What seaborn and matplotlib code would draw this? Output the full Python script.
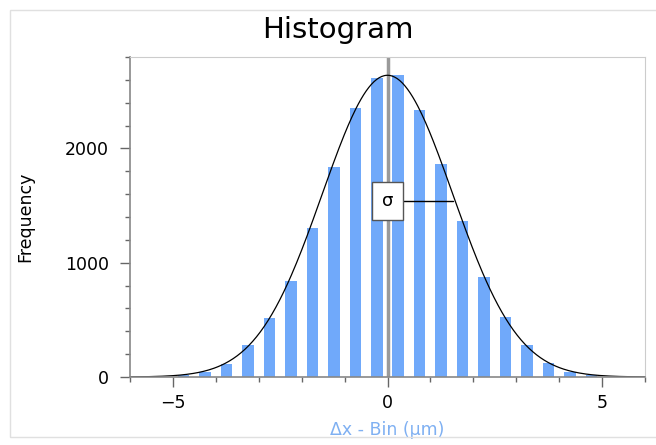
import numpy as np
import pandas as pd
import seaborn as sns
import matplotlib.pyplot as plt
from matplotlib.ticker import MultipleLocator
from matplotlib.patches import Rectangle

# bin centres (um) and counts
bin_centers = [-4.75, -4.25, -3.75, -3.25, -2.75, -2.25, -1.75, -1.25, -0.75, -0.25,
               0.25, 0.75, 1.25, 1.75, 2.25, 2.75, 3.25, 3.75, 4.25, 4.75]
counts = [15, 47, 114, 284, 519, 844, 1300, 1835, 2352, 2612,
          2646, 2338, 1860, 1362, 871, 524, 278, 120, 47, 16]

# gaussian fit shown on top of the bars
fit_amplitude = 2640
fit_mean = 0.0
fit_sigma = 1.52

df = pd.DataFrame({"bin": bin_centers, "count": counts})

sns.set_style("white")
plt.rcParams['font.family'] = ['DejaVu Sans']
plt.rcParams['text.color'] = 'black'
plt.rcParams['axes.labelcolor'] = 'black'

fig = plt.figure(figsize=(6.56, 4.45), dpi=100)
ax = fig.add_axes([130 / 656, 1 - 377 / 445, 515 / 656, 320 / 445])

sns.histplot(data=df, x="bin", weights="count", binwidth=0.5, binrange=(-6, 6), shrink=0.54,
             color="#70a9fa", alpha=1, edgecolor="none", linewidth=0, ax=ax)

xs = np.linspace(-6, 6, 400)
ys = fit_amplitude * np.exp(-0.5 * ((xs - fit_mean) / fit_sigma) ** 2)
sns.lineplot(x=xs, y=ys, color="black", linewidth=0.9, ax=ax)

# vertical marker at the mean
ax.axvline(fit_mean, color="#9a9a9a", linewidth=2.5, zorder=1.5)

# sigma marker
sig_y = fit_amplitude * np.exp(-0.5)
ax.plot([fit_mean + 0.3, fit_mean + fit_sigma], [sig_y - 60, sig_y - 60], color="black", linewidth=1)
ax.text(fit_mean, sig_y - 60, "σ", ha="center", va="center", fontsize=13,
        bbox=dict(boxstyle="square,pad=0.55", facecolor="white", edgecolor="#555555", linewidth=1),
        zorder=5)

ax.set_xlim(-6, 6)
ax.set_ylim(0, 2800)
ax.xaxis.set_minor_locator(MultipleLocator(1))
ax.yaxis.set_minor_locator(MultipleLocator(200))
ax.set_xticks([-5, 0, 5], ["−5", "0", "5"])
ax.set_yticks([0, 1000, 2000], ["0", "1000", "2000"])
ax.tick_params(which="both", direction="out", bottom=True, left=True, color="#666666",
               labelsize=12.5, labelcolor="black")
ax.tick_params(which="major", length=7, width=1, pad=5)
ax.tick_params(axis="y", which="major", pad=8)
ax.tick_params(which="minor", length=3.5, width=1)

for side in ["top", "right"]:
    ax.spines[side].set_color("#cccccc")
for side in ["left", "bottom"]:
    ax.spines[side].set_color("#888888")
    ax.spines[side].set_linewidth(1.2)

ax.set_xlabel("Δx - Bin (μm)", color="#7fb0f2", fontsize=12.5, labelpad=7)
ax.set_ylabel("Frequency", color="black", fontsize=12.5, labelpad=22)

fig.text(338 / 656, 1 - 30 / 445, "Histogram", ha="center", va="center", fontsize=21)

# light outer frame
fig.patches.append(Rectangle((10 / 656, 8 / 445), 1, 427 / 445, transform=fig.transFigure,
                             fill=False, edgecolor="#e0e0e0", linewidth=1))

fig.savefig("out.png", dpi=100)
